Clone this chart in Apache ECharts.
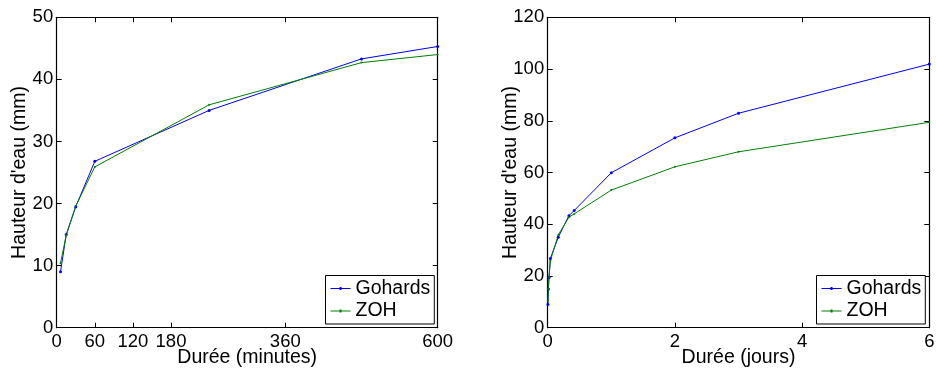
<!DOCTYPE html>
<html><head><meta charset="utf-8">
<script src="https://cdn.jsdelivr.net/npm/echarts@6/dist/echarts.min.js"></script>
<style>html,body{margin:0;padding:0;background:#fff}#c{width:936px;height:369px}</style>
</head><body><div id="c"></div>
<script>
// Data
const minutes = [6, 15, 30, 60, 240, 480, 600];
const gohardsMin = [9.0, 15.0, 19.5, 26.8, 35.0, 43.3, 45.3];
const zohMin = [10.4, 14.9, 19.6, 25.9, 35.9, 42.7, 44.0];
const days = [0.0042, 0.0104, 0.0208, 0.0417, 0.1667, 0.3333, 0.4167, 1, 2, 3, 6];
const gohardsDays = [9.0, 15.0, 19.5, 26.8, 35.0, 43.3, 45.3, 59.9, 73.4, 82.9, 101.9];
const zohDays = [10.4, 14.9, 19.6, 25.9, 35.9, 42.7, 44.0, 53.2, 62.2, 68.0, 79.4];
const minuteTicks = [0, 60, 120, 180, 360, 600];
const dayTicks = [0, 2, 4, 6];
const seriesNames = ['Gohards', 'ZOH'];
const xNames = ['Durée (minutes)', 'Durée (jours)'];
const yName = "Hauteur d'eau (mm)";

const FONT = "'Liberation Sans', Arial, Helvetica, sans-serif";
const LW = 1.2;
const pair = (xs, ys) => xs.map((x, i) => [x, ys[i]]);
const LEG_ICON = 'path://M0,1H20V2H0Z M9,0H11V3H9Z';

function xAx(grid, min, max, ticks, name, top) {
  return {
    type: 'value', gridIndex: grid, min: min, max: max, position: top ? 'top' : 'bottom',
    name: top ? '' : name, nameLocation: 'middle', nameGap: 20, nameMoveOverlap: false,
    nameTextStyle: {fontFamily: FONT, fontSize: 19.5, color: '#000'},
    axisLine: {show: true, onZero: false, lineStyle: {color: '#000', width: LW}},
    axisTick: {show: true, inside: true, length: 5, customValues: ticks, lineStyle: {color: '#000', width: 1}},
    axisLabel: {show: !top, customValues: ticks, margin: 5, fontFamily: FONT, fontSize: 18.5, color: '#000'},
    splitLine: {show: false}
  };
}
function yAx(grid, max, interval, right) {
  return {
    type: 'value', gridIndex: grid, min: 0, max: max, interval: interval, position: right ? 'right' : 'left',
    name: right ? '' : yName, nameLocation: 'middle', nameGap: 27, nameMoveOverlap: false,
    nameTextStyle: {fontFamily: FONT, fontSize: 19.5, color: '#000'},
    axisLine: {show: true, onZero: false, lineStyle: {color: '#000', width: LW}},
    axisTick: {show: true, inside: true, length: 5, lineStyle: {color: '#000', width: 1}},
    axisLabel: {show: !right, margin: 3.5, fontFamily: FONT, fontSize: 18.5, color: '#000'},
    splitLine: {show: false}
  };
}
function legend(right) {
  return {
    data: seriesNames, orient: 'vertical', right: right, bottom: 45,
    backgroundColor: '#fff', borderColor: '#000', borderWidth: 1, borderRadius: 0,
    padding: [3, 4, 3, 5], itemGap: 2.5, itemWidth: 20, itemHeight: 3,
    icon: LEG_ICON,
    textStyle: {fontFamily: FONT, fontSize: 19.5, color: '#000', lineHeight: 20},
    selectedMode: false
  };
}
function line(name, data, color, xi, yi, size) {
  return {
    type: 'line', name: name, data: data, xAxisIndex: xi, yAxisIndex: yi,
    symbol: 'circle', symbolSize: size, showSymbol: true,
    lineStyle: {color: color, width: 1}, itemStyle: {color: color},
    animation: false, z: 3
  };
}

const chart = echarts.init(document.getElementById('c'), null, {renderer: 'canvas'});
chart.setOption({
  animation: false,
  backgroundColor: '#fff',
  textStyle: {fontFamily: FONT},
  grid: [
    {left: 56.7, top: 17.3, width: 381, height: 310.4, outerBoundsMode: 'none', containLabel: false},
    {left: 547.7, top: 17.3, width: 381.6, height: 310.4, outerBoundsMode: 'none', containLabel: false}
  ],
  xAxis: [
    xAx(0, 0, 600, minuteTicks, xNames[0], false),
    xAx(0, 0, 600, minuteTicks, xNames[0], true),
    xAx(1, 0, 6, dayTicks, xNames[1], false),
    xAx(1, 0, 6, dayTicks, xNames[1], true)
  ],
  yAxis: [
    yAx(0, 50, 10, false),
    yAx(0, 50, 10, true),
    yAx(1, 120, 20, false),
    yAx(1, 120, 20, true)
  ],
  legend: [legend(501.7), legend(10.7)],
  series: [
    line(seriesNames[0], pair(minutes, gohardsMin), '#0000ff', 0, 0, 3),
    line(seriesNames[1], pair(minutes, zohMin), '#008000', 0, 0, 2),
    line(seriesNames[0], pair(days, gohardsDays), '#0000ff', 2, 2, 3),
    line(seriesNames[1], pair(days, zohDays), '#008000', 2, 2, 2)
  ]
});
</script></body></html>
